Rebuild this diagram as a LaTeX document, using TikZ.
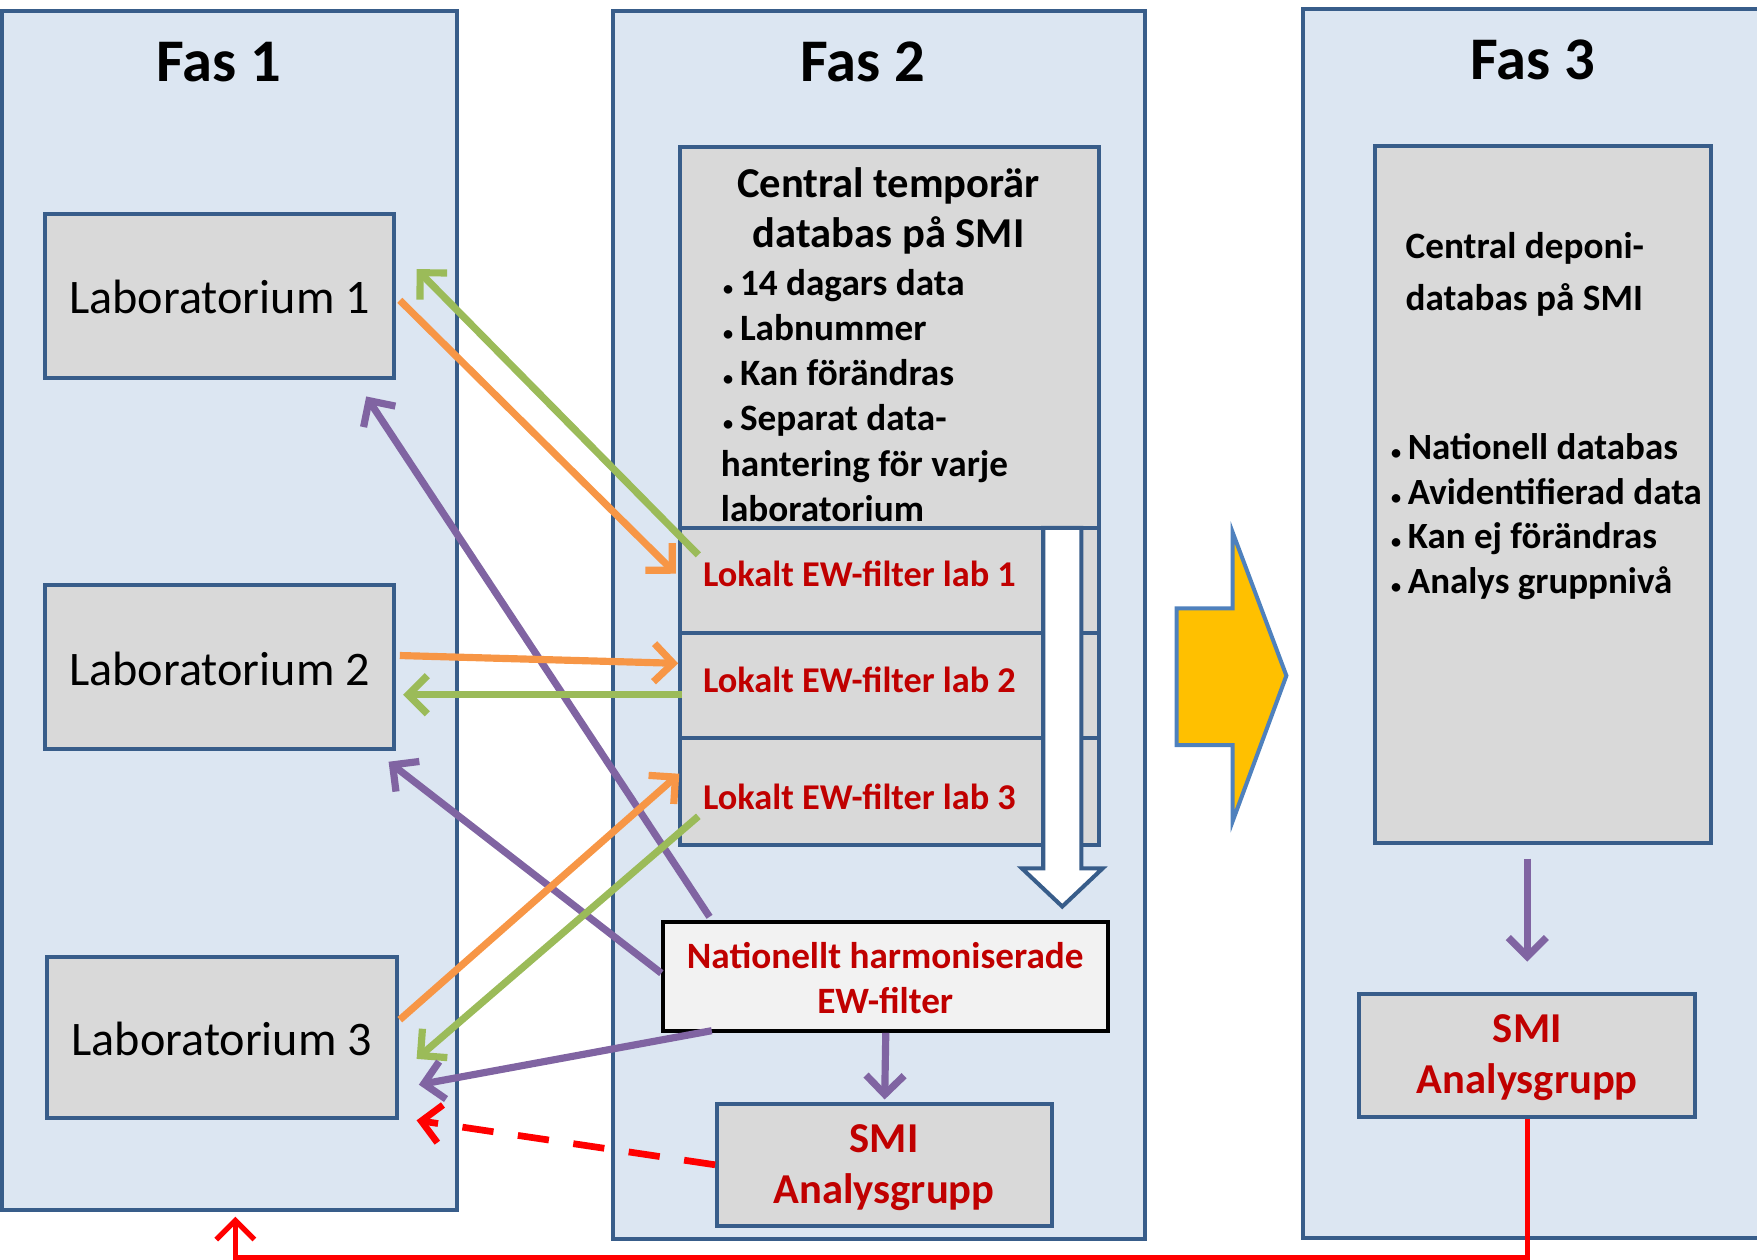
\documentclass[tikz,border=0pt]{standalone}
\usepackage{fontspec}
\setmainfont{Carlito}
\usetikzlibrary{arrows.meta,calc,fit}
\definecolor{panelfill}{HTML}{DCE6F2}
\definecolor{panelline}{HTML}{385D8A}
\definecolor{boxfill}{HTML}{D9D9D9}
\definecolor{natfill}{HTML}{F2F2F2}
\definecolor{txtred}{HTML}{C00000}
\definecolor{aorange}{HTML}{F79646}
\definecolor{agreen}{HTML}{9BBB59}
\definecolor{apurple}{HTML}{8064A2}
\definecolor{ayellow}{HTML}{FFC000}
\definecolor{yline}{HTML}{4F81BD}
\definecolor{pureRed}{HTML}{FF0000}
\newcommand\fsz[2]{\fontsize{#1}{#2}\selectfont}
\newcommand\bul{\makebox[8.5pt][l]{\hspace{1pt}{\fsz{9}{9}•}}}
\begin{document}
\begin{tikzpicture}[x=0.5pt,y=-0.5pt,
  panel/.style={draw=panelline, fill=panelfill, line width=1.8pt, inner sep=0pt},
  gbox/.style={draw=panelline, fill=boxfill, line width=1.8pt, inner sep=0pt},
  natbox/.style={draw=black, fill=natfill, line width=1.8pt, inner sep=0pt},
  title/.style={font=\bfseries\fsz{27}{30}, inner sep=0pt},
  labtxt/.style={font=\fsz{21.5}{24}, inner sep=0pt},
  filtxt/.style={font=\bfseries\fsz{16.2}{20}, text=txtred, inner sep=0pt, align=center},
  smitxt/.style={font=\bfseries\fsz{19}{23}, text=txtred, inner sep=0pt, align=center},
  arr/.style={line width=3.2pt, -{Straight Barb[length=8.5pt,width=17pt]}},
  ]
\useasboundingbox (0,0) rectangle (1568,1124);

% panels
\node[panel, fit={(2,10) (408,1080)}] (fas1) {};
\node[panel, fit={(547,10) (1022,1106)}] (fas2) {};
\node[panel, fit={(1163,8) (1580,1105)}] (fas3) {};
\node[title] (fas1t) at (195,55) {Fas 1};
\node[title] (fas2t) at (770,55) {Fas 2};
\node[title] (fas3t) at (1368,53) {Fas 3};

% Fas 1 labs
\node[gbox, fit={(40,191) (352,337)}] (lab1) {};
\node[gbox, fit={(40,522) (352,668)}] (lab2) {};
\node[gbox, fit={(42,854) (354,998)}] (lab3) {};
\node[labtxt] (lab1t) at (196,265) {Laboratorium 1};
\node[labtxt] (lab2t) at (196,597) {Laboratorium 2};
\node[labtxt] (lab3t) at (198,927) {Laboratorium 3};

% Fas 2
\node[gbox, fit={(607,131) (981,471)}] (ct) {};
\node[font=\bfseries\fsz{19}{22.5}, align=center, inner sep=0pt] (cthead) at (793,188) {Central temporär\\databas på SMI};
\node[font=\bfseries\fsz{16.6}{20.1}, align=left, anchor=west, inner sep=0pt] (ctlist) at (643,353)
  {\bul 14 dagars data\\\bul Labnummer\\\bul Kan förändras\\\bul Separat data-\\hantering för varje\\laboratorium};

\draw[draw=panelline, fill=boxfill, line width=1.8pt] (607,471) rectangle (981,565);
\draw[draw=panelline, fill=boxfill, line width=1.8pt] (607,565) rectangle (981,659);
\draw[draw=panelline, fill=boxfill, line width=1.8pt] (607,659) rectangle (981,754);
\node[gbox, fit={(607,471) (931,565)}] (fil1) {};
\node[gbox, fit={(607,565) (931,659)}] (fil2) {};
\node[gbox, fit={(607,659) (931,754)}] (fil3) {};
\node[filtxt] (fil1t) at (767,512) {Lokalt EW-filter lab 1};
\node[filtxt] (fil2t) at (767,607) {Lokalt EW-filter lab 2};
\node[filtxt] (fil3t) at (767,711) {Lokalt EW-filter lab 3};
\draw[draw=panelline, fill=white, line width=1.8pt]
  (931,471) -- (931,775) -- (912,775) -- (948,809) -- (984,775) -- (965,775) -- (965,471) -- cycle;

\node[natbox, fit={(592,823) (989,920)}] (nat) {};
\node[filtxt, font=\bfseries\fsz{16.6}{20}] (natt) at (790,873) {Nationellt harmoniserade\\EW-filter};
\node[gbox, fit={(640,985) (939,1094)}] (smi2) {};
\node[smitxt] (smi2t) at (789,1042) {SMI\\Analysgrupp};

% Fas 3
\node[gbox, fit={(1227,130) (1527,752)}] (dep) {};
\node[font=\bfseries\fsz{16.6}{23}, align=left, anchor=west, inner sep=0pt] (dephead) at (1254,245) {Central deponi-\\databas på SMI};
\node[font=\bfseries\fsz{16.5}{20}, align=left, anchor=west, inner sep=0pt] (deplist) at (1239,461)
  {\bul Nationell databas\\\bul Avidentifierad data\\\bul Kan ej förändras\\\bul Analys gruppnivå};
\node[gbox, fit={(1213,887) (1513,997)}] (smi3) {};
\node[smitxt] (smi3t) at (1363,944) {SMI\\Analysgrupp};

% big yellow arrow
\draw[fill=ayellow, draw=yline, line width=1.8pt, line join=miter]
  (1050,543) -- (1100,543) -- (1100,475) -- (1148,603) -- (1100,733) -- (1100,665) -- (1050,665) -- cycle;

% connectors
\draw[arr, aorange] ($(lab1.east)+(3,4)$) -- ($(fil1.west)+(-2,-6)$);
\draw[arr, agreen] ($(fil1.north west)+(18,26)$) -- ($(lab1.north east)+(18,51)$);
\draw[arr, apurple] ($(nat.north west)+(43,-3)$) -- ($(lab1.south east)+(-27,15)$);
\draw[arr, aorange] ($(lab2.east)+(3,-10)$) -- ($(fil2.west)+(0,-20)$);
\draw[arr, agreen] ($(fil2.west)+(3,8)$) -- ($(lab2.east)+(6,25)$);
\draw[arr, apurple] ($(nat.west)+(0,-3)$) -- ($(lab2.south east)+(-7,10)$);
\draw[arr, aorange] ($(lab3.east)+(1,-16)$) -- ($(fil3.west)+(1,-16)$);
\draw[arr, agreen] ($(fil3.west)+(18,22)$) -- ($(lab3.east)+(16,19)$);
\draw[arr, apurple] ($(nat.south west)+(45,-2)$) -- ($(lab3.east)+(18,42)$);
\draw[arr, apurple] (nat.south) -- ($(smi2.north)+(0,-2)$);
\draw[arr, pureRed, line width=3pt, dash pattern=on 14pt off 11pt] (smi2.west) -- ($(lab3.south east)+(16,0)$);
\draw[arr, apurple] ($(smi3.north)+(0,-119)$) -- ($(smi3.north)+(0,-27)$);
\draw[arr, pureRed, line width=2.4pt] (smi3.south) -- ++(0,124) -| ($(fas1.south)+(5,4)$);
\end{tikzpicture}
\end{document}
